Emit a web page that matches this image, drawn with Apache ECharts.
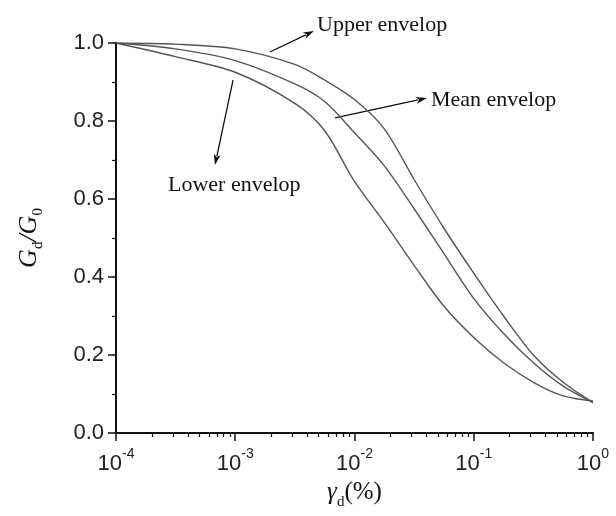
<!DOCTYPE html>
<html>
<head>
<meta charset="utf-8">
<script src="https://cdn.jsdelivr.net/npm/echarts@6/dist/echarts.min.js"></script>
<style>
html,body{margin:0;padding:0;background:#fff;}
#main{width:616px;height:516px;}
</style>
</head>
<body>
<div id="main"></div>
<script>
// strain (%) on log scale, read at quarter decades
var strain = [1e-4, 3.162e-4, 1e-3, 3.162e-3, 5.623e-3, 1e-2, 1.778e-2, 3.162e-2, 5.623e-2, 1e-1, 1.778e-1, 3.162e-1, 5.623e-1, 1];
var upperEnv = [1.0, 0.997, 0.985, 0.945, 0.905, 0.855, 0.78, 0.65, 0.525, 0.41, 0.30, 0.20, 0.13, 0.078];
var meanEnv  = [1.0, 0.985, 0.955, 0.895, 0.85, 0.77, 0.685, 0.575, 0.46, 0.345, 0.255, 0.18, 0.12, 0.078];
var lowerEnv = [1.0, 0.965, 0.925, 0.845, 0.775, 0.645, 0.54, 0.43, 0.325, 0.245, 0.18, 0.13, 0.095, 0.082];

// minor ticks of the log axis, as exponents (2..9 in each decade)
var xMinorTicks = [];
for (var e = -4; e < 0; e++) {
	for (var k = 2; k <= 9; k++) {
		xMinorTicks.push(e + Math.log(k) / Math.LN10);
	}
}

// annotations: [x, y] in data units
var labelNames = ['Upper envelop', 'Mean envelop', 'Lower envelop'];
var labelAt = [[4.85e-3, 1.046], [0.0438, 0.854], [2.73e-4, 0.636]];
var arrowFrom = [[1.954e-3, 0.977], [6.86e-3, 0.808], [9.58e-4, 0.905]];
var arrowTo = [[4.57e-3, 1.031], [0.04055, 0.859], [6.76e-4, 0.687]];

function pairs(xs, ys){
	var out = [];
	for (var i = 0; i < xs.length; i++) out.push([xs[i], ys[i]]);
	return out;
}

var curveStyle = {color: '#555', width: 1.4};
var myChart = echarts.init(document.getElementById('main'));
var option = {
	animation: false,
	backgroundColor: '#fff',
	grid: {left: 116, right: 23, top: 43, bottom: 83},
	xAxis: [{
		type: 'log',
		logBase: 10,
		min: 1e-4,
		max: 1,
		name: '{g|γ}{sub|d}{n|(%)}',
		nameLocation: 'middle',
		nameGap: 47,
		nameTextStyle: {
			rich: {
				g: {fontFamily: 'Liberation Serif', fontStyle: 'italic', fontSize: 25, lineHeight: 26, verticalAlign: 'top', color: '#111'},
				sub: {fontFamily: 'Liberation Serif', fontSize: 15, lineHeight: 15, padding: [15, 0, 0, 0], verticalAlign: 'top', color: '#111'},
				n: {fontFamily: 'Liberation Serif', fontSize: 25, lineHeight: 26, verticalAlign: 'top', color: '#111'}
			}
		},
		axisLine: {onZero: false, lineStyle: {color: '#111', width: 2}},
		axisTick: {show: true, length: 8, lineStyle: {color: '#111', width: 1.5}},
		splitLine: {show: false},
		axisLabel: {
			margin: 14,
			formatter: function(v){
				var p = Math.round(Math.log(v) / Math.LN10);
				return '{b|10}{s|' + p + '}';
			},
			rich: {
				b: {fontFamily: 'Liberation Sans', fontSize: 22, lineHeight: 26, padding: [6, 0, 0, 0], verticalAlign: 'top', color: '#222'},
				s: {fontFamily: 'Liberation Sans', fontSize: 14, lineHeight: 16, verticalAlign: 'top', color: '#222'}
			}
		}
	}, {
		// helper axis in exponent units, only for the minor ticks
		type: 'value',
		min: -4,
		max: 0,
		position: 'bottom',
		axisLine: {show: false, onZero: false},
		axisLabel: {show: false},
		splitLine: {show: false},
		axisTick: {show: true, length: 4, customValues: xMinorTicks, lineStyle: {color: '#111', width: 1.2}}
	}],
	yAxis: {
		type: 'value',
		min: 0,
		max: 1,
		interval: 0.2,
		name: '{i|G}{sub|d}{i|/G}{sub|0}',
		nameLocation: 'middle',
		nameGap: 74,
		nameRotate: 90,
		nameTextStyle: {
			rich: {
				i: {fontFamily: 'Liberation Serif', fontStyle: 'italic', fontSize: 26, lineHeight: 26, verticalAlign: 'top', color: '#111'},
				sub: {fontFamily: 'Liberation Serif', fontSize: 15, lineHeight: 15, padding: [15, 0, 0, 0], verticalAlign: 'top', color: '#111'}
			}
		},
		axisLine: {show: true, onZero: false, lineStyle: {color: '#111', width: 2}},
		axisTick: {show: true, length: 8, lineStyle: {color: '#111', width: 1.5}},
		minorTick: {show: true, splitNumber: 2, length: 4, lineStyle: {color: '#111', width: 1.2}},
		splitLine: {show: false},
		axisLabel: {
			margin: 12,
			fontFamily: 'Liberation Sans',
			fontSize: 22,
			color: '#222',
			formatter: function(v){ return v.toFixed(1); }
		}
	},
	series: [
		{name: 'Upper envelop', type: 'line', data: pairs(strain, upperEnv), symbol: 'none', smooth: 0.3, lineStyle: curveStyle},
		{name: 'Mean envelop', type: 'line', data: pairs(strain, meanEnv), symbol: 'none', smooth: 0.3, lineStyle: curveStyle},
		{name: 'Lower envelop', type: 'line', data: pairs(strain, lowerEnv), symbol: 'none', smooth: 0.3, lineStyle: curveStyle}
	]
};
myChart.setOption(option);

// annotation texts and arrows, placed through the axes
var toPx = function(p){ return myChart.convertToPixel({xAxisIndex: 0, yAxisIndex: 0}, p); };
var gfx = [];
for (var j = 0; j < labelNames.length; j++) {
	var pt = toPx(labelAt[j]);
	gfx.push({
		type: 'text',
		x: pt[0],
		y: pt[1],
		style: {
			text: labelNames[j],
			fontFamily: 'Liberation Serif',
			fontSize: 22,
			fill: '#111',
			textAlign: 'left',
			textVerticalAlign: 'middle'
		}
	});
	var a = toPx(arrowFrom[j]), b = toPx(arrowTo[j]);
	var dx = b[0] - a[0], dy = b[1] - a[1];
	var len = Math.sqrt(dx * dx + dy * dy);
	var ux = dx / len, uy = dy / len;
	var hl = 11, hw = 3.5;
	var bx = b[0] - ux * hl, by = b[1] - uy * hl;
	gfx.push({
		type: 'line',
		shape: {x1: a[0], y1: a[1], x2: bx + ux * 2, y2: by + uy * 2},
		style: {stroke: '#111', lineWidth: 1.3}
	});
	gfx.push({
		type: 'polygon',
		shape: {points: [[b[0], b[1]], [bx - uy * hw, by + ux * hw], [bx + ux * 3, by + uy * 3], [bx + uy * hw, by - ux * hw]]},
		style: {fill: '#111'}
	});
}
myChart.setOption({graphic: gfx});
</script>
</body>
</html>
